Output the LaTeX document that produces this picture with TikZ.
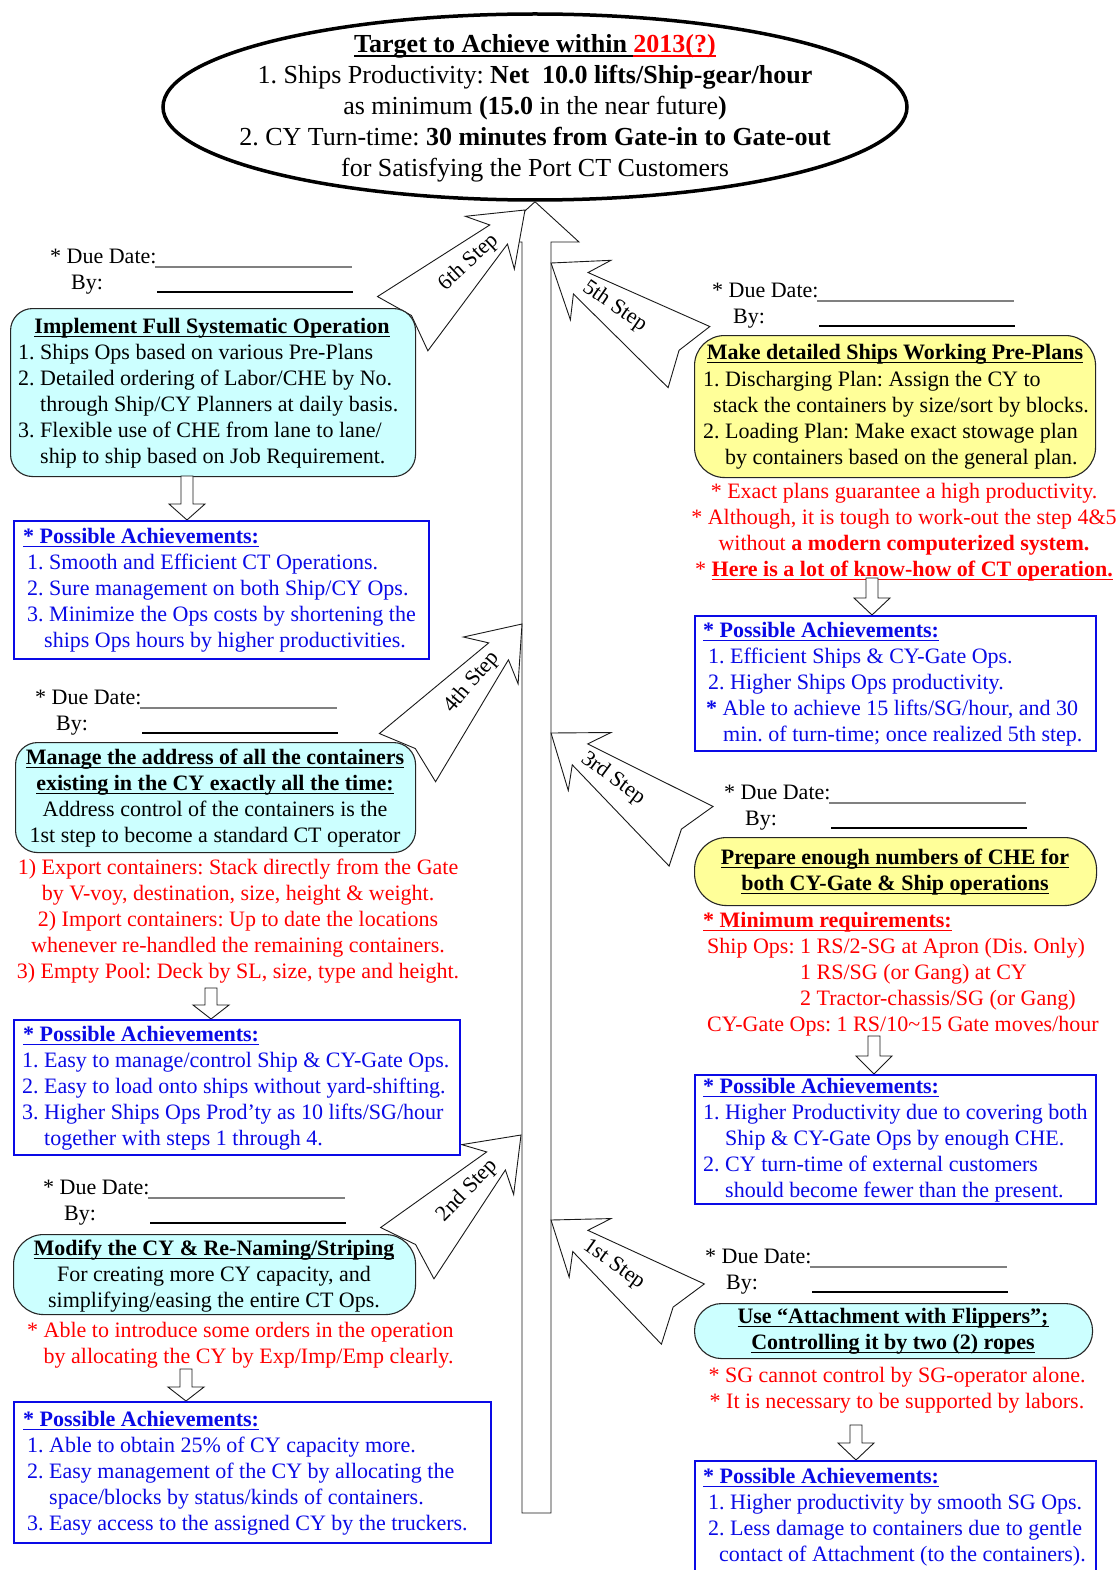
\documentclass[tikz,border=0pt]{standalone}
\usepackage{fontspec}
\setmainfont{Liberation Serif}
\usetikzlibrary{shapes.geometric}
\definecolor{boxcyan}{RGB}{204,255,255}
\definecolor{boxyellow}{RGB}{255,255,153}
\definecolor{achblue}{RGB}{10,10,230}
\definecolor{notered}{RGB}{255,0,0}
\frenchspacing

% underline at a fixed depth below the baseline, in the current colour
\newsavebox{\ulbox}
\newcommand{\ulx}[1]{\sbox{\ulbox}{#1}\rlap{\rule[-3.8pt]{\wd\ulbox}{1.2pt}}\usebox{\ulbox}}

% "* Due Date: ____ / By: ____" block; #1 name prefix, #2/#3 position
\newcommand{\duedate}[3]{%
  \node[txt, anchor=base west] (#1d) at (#2,#3+7) {* Due Date:};
  \node[txt, anchor=base west] (#1b) at (#2+21,#3+33) {By:};
  \draw[black!50, line width=1.2pt] (#2+105,#3+11) -- (#2+302,#3+11);
  \draw[black, line width=1.2pt] (#2+107,#3+36) -- (#2+303,#3+36);
}
% notched step arrow: name, tip x, tip y, direction, length, label angle, label
\newcommand{\steparrow}[7]{%
  \begin{scope}[shift={(#2,#3)}, rotate=#4]
    \draw[arrowline] (0,0) -- (-48,36) -- (-36,13) -- (-#5,37) -- (-#5+12,0)
      -- (-#5,-37) -- (-36,-13) -- (-48,-36) -- cycle;
    \node[txt, rotate=#6] (#1) at (-77,0) {#7};
  \end{scope}
}
% small downward block arrow: x, top, head base, tip
\newcommand{\downblock}[4]{%
  \draw[arrowline] (#1-6,#2) -- (#1-6,#3) -- (#1-18,#3) -- (#1,#4)
    -- (#1+18,#3) -- (#1+6,#3) -- (#1+6,#2) -- cycle;
}

\begin{document}
\begin{tikzpicture}[x=1pt,y=-1pt,
  txt/.style={inner sep=0pt, font=\fontsize{22}{26}\selectfont, align=left},
  ttl/.style={inner sep=0pt, font=\fontsize{26}{31}\selectfont, align=center},
  rbox/.style={draw=black!85, line width=1.1pt, rounded corners=22pt, inner sep=0pt, anchor=north west},
  abox/.style={draw=achblue, line width=1.8pt, inner sep=0pt, anchor=north west},
  arrowline/.style={draw=black!90, line width=0.9pt, fill=white, line join=miter},
]
\useasboundingbox (0,0) rectangle (1117,1570);
\clip (0,0) rectangle (1117,1570);
\fill[white] (0,0) rectangle (1117,1570);

% ---- target ellipse ----
\node[ellipse, draw, line width=3.5pt, minimum width=744, minimum height=186, inner sep=0pt] (target) at (535,107) {};
\node[ttl, anchor=north] (targettext) at (535,31) {\strut{\bfseries\ulx{Target to Achieve within\ }\textcolor{notered}{\ulx{2013(?)}}}\\
1. Ships Productivity: \textbf{Net\ \ 10.0 lifts/Ship-gear/hour}\\
as minimum \textbf{(15.0} in the near future\textbf{)}\\
2. CY Turn-time: \textbf{30 minutes from Gate-in to Gate-out}\\
for Satisfying the Port CT Customers};

% ---- central upward arrow ----
\draw[arrowline] (522,1513) -- (522,242) -- (491,242) -- (target.south) -- (579,242) -- (551,242) -- (551,1513) -- cycle;

% ---- step arrows ----
\steparrow{st6}{525}{210}{42.9}{167}{42.9}{6th Step}
\steparrow{st5}{551}{263}{145.7}{167}{-34.3}{5th Step}
\steparrow{st4}{522}{624}{49.4}{176}{49.4}{4th Step}
\steparrow{st3}{551}{733}{143.6}{174}{-36.4}{3rd Step}
\steparrow{st2}{521}{1135}{46.1}{164}{46.1}{2nd Step}
\steparrow{st1}{551}{1220}{144.5}{162}{-35.5}{1st Step}

% ---- due dates ----
\duedate{s6}{50}{256}
\duedate{s4}{35}{697}
\duedate{s2}{43}{1187}
\duedate{s5}{712}{290}
\duedate{s3}{724}{792}
\duedate{s1}{705}{1256}

% ================= left column =================
% step 6
\node[rbox, fill=boxcyan, minimum width=405, minimum height=168] (b6) at (10,308) {};
\node[txt, anchor=north] (b6t) at (212,315) {\strut\bfseries\ulx{Implement Full Systematic Operation}};
\node[txt, anchor=north west] (b6l) at (18,341) {\strut 1. Ships Ops based on various Pre-Plans\\
2. Detailed ordering of Labor/CHE by No.\\
\phantom{2. }through Ship/CY Planners at daily basis.\\
3. Flexible use of CHE from lane to lane/\\
\phantom{3. }ship to ship based on Job Requirement.};
\downblock{187}{476}{504}{520}
\node[abox, minimum width=415, minimum height=138] (a6) at (13,520) {};
\node[txt, anchor=north west, text=achblue] (a6t) at (23,525) {\strut\textbf{\ulx{* Possible Achievements:}}\\
\hspace*{4pt}1. Smooth and Efficient CT Operations.\\
\hspace*{4pt}2. Sure management on both Ship/CY Ops.\\
\hspace*{4pt}3. Minimize the Ops costs by shortening the\\
\hspace*{21pt}ships Ops hours by higher productivities.};

% step 4
\node[rbox, fill=boxcyan, minimum width=400, minimum height=110] (b4) at (15,742) {};
\node[txt, align=center, anchor=north] (b4t) at (215,746) {\strut{\bfseries\ulx{Manage the address of all the containers}}\\
{\bfseries\ulx{existing in the CY exactly all the time:}}\\
Address control of the containers is the\\
1st step to become a standard CT operator};
\node[txt, align=center, anchor=north, text=notered] (r4) at (238,856) {\strut 1) Export containers: Stack directly from the Gate\\
by V-voy, destination, size, height \& weight.\\
2) Import containers: Up to date the locations\\
whenever re-handled the remaining containers.\\
3) Empty Pool: Deck by SL, size, type and height.};
\downblock{211}{988}{1005}{1019}
\node[abox, minimum width=446, minimum height=135] (a4) at (13,1019) {};
\node[txt, anchor=north west, text=achblue] (a4t) at (22,1023) {\strut\hspace*{1pt}\textbf{\ulx{* Possible Achievements:}}\\
1. Easy to manage/control Ship \& CY-Gate Ops.\\
2. Easy to load onto ships without yard-shifting.\\
3. Higher Ships Ops Prod’ty as 10 lifts/SG/hour\\
\phantom{3. }together with steps 1 through 4.};

% step 2
\node[rbox, fill=boxcyan, rounded corners=30pt, minimum width=402, minimum height=80] (b2) at (13,1234) {};
\node[txt, align=center, anchor=north] (b2t) at (214,1237) {\strut{\bfseries\ulx{Modify the CY \& Re-Naming/Striping}}\\
For creating more CY capacity, and\\
simplifying/easing the entire CT Ops.};
\node[txt, anchor=north west, text=notered] (r2) at (27,1319) {\strut * Able to introduce some orders in the operation\\
\phantom{* }by allocating the CY by Exp/Imp/Emp clearly.};
\downblock{186}{1369}{1387}{1401}
\node[abox, minimum width=477, minimum height=141] (a2) at (13,1401) {};
\node[txt, anchor=north west, text=achblue] (a2t) at (23,1408) {\strut\textbf{\ulx{* Possible Achievements:}}\\
\hspace*{4pt}1. Able to obtain 25\% of CY capacity more.\\
\hspace*{4pt}2. Easy management of the CY by allocating the\\
\hspace*{4pt}\phantom{2. }space/blocks by status/kinds of containers.\\
\hspace*{4pt}3. Easy access to the assigned CY by the truckers.};

% ================= right column =================
% step 5
\node[rbox, fill=boxyellow, rounded corners=30pt, minimum width=401, minimum height=142] (b5) at (694,335) {};
\node[txt, anchor=north] (b5t) at (895,341) {\strut\bfseries\ulx{Make detailed Ships Working Pre-Plans}};
\node[txt, anchor=north west] (b5l) at (703,368) {\strut 1. Discharging Plan: Assign the CY to\\
\hspace*{10pt}stack the containers by size/sort by blocks.\\
2. Loading Plan: Make exact stowage plan\\
\phantom{2. }by containers based on the general plan.};
\node[txt, align=center, anchor=north, text=notered] (r5) at (904,480) {\strut * Exact plans guarantee a high productivity.\\
* Although, it is tough to work-out the step 4\&5\\
without \textbf{a modern computerized system.}\\
* \textbf{\ulx{Here is a lot of know-how of CT operation.}}};
\downblock{872}{578}{598}{615}
\node[abox, minimum width=401, minimum height=135] (a5) at (694,615) {};
\node[txt, anchor=north west, text=achblue] (a5t) at (703,619) {\strut\textbf{\ulx{* Possible Achievements:}}\\
\hspace*{5pt}1. Efficient Ships \& CY-Gate Ops.\\
\hspace*{5pt}2. Higher Ships Ops productivity.\\
\hspace*{3pt}\textbf{*} Able to achieve 15 lifts/SG/hour, and 30\\
\hspace*{20pt}min. of turn-time; once realized 5th step.};

% step 3
\node[rbox, fill=boxyellow, rounded corners=32pt, minimum width=402, minimum height=68] (b3) at (694,837) {};
\node[txt, align=center, anchor=north] (b3t) at (895,846) {\strut{\bfseries\ulx{Prepare enough numbers of CHE for}}\\
{\bfseries\ulx{both CY-Gate \& Ship operations}}};
\node[txt, anchor=north west, text=notered] (r3) at (703,909) {\strut\textbf{\ulx{* Minimum requirements:}}\\
\hspace*{4pt}Ship Ops: 1 RS/2-SG at Apron (Dis. Only)\\
\hspace*{4pt}\phantom{Ship Ops: }1 RS/SG (or Gang) at CY\\
\hspace*{4pt}\phantom{Ship Ops: }2 Tractor-chassis/SG (or Gang)\\
\hspace*{4pt}CY-Gate Ops: 1 RS/10\textasciitilde15 Gate moves/hour};
\downblock{874}{1036}{1056}{1074}
\node[abox, minimum width=401, minimum height=129] (a3) at (694,1074) {};
\node[txt, anchor=north west, text=achblue] (a3t) at (703,1075) {\strut\textbf{\ulx{* Possible Achievements:}}\\
1. Higher Productivity due to covering both\\
\phantom{1. }Ship \& CY-Gate Ops by enough CHE.\\
2. CY turn-time of external customers\\
\phantom{2. }should become fewer than the present.};

% step 1
\node[rbox, fill=boxcyan, rounded corners=27pt, minimum width=398, minimum height=55] (b1) at (694,1303) {};
\node[txt, align=center, anchor=north] (b1t) at (893,1305) {\strut{\bfseries\ulx{Use “Attachment with Flippers”;}}\\
{\bfseries\ulx{Controlling it by two (2) ropes}}};
\node[txt, align=center, anchor=north, text=notered] (r1) at (897,1364) {\strut * SG cannot control by SG-operator alone.\\
* It is necessary to be supported by labors.};
\downblock{856}{1425}{1443}{1460}
\node[abox, minimum width=401, minimum height=140] (a1) at (694,1460) {};
\node[txt, anchor=north west, text=achblue] (a1t) at (703,1465) {\strut\textbf{\ulx{* Possible Achievements:}}\\
\hspace*{5pt}1. Higher productivity by smooth SG Ops.\\
\hspace*{5pt}2. Less damage to containers due to gentle\\
\hspace*{16pt}contact of Attachment (to the containers).};
\end{tikzpicture}
\end{document}
